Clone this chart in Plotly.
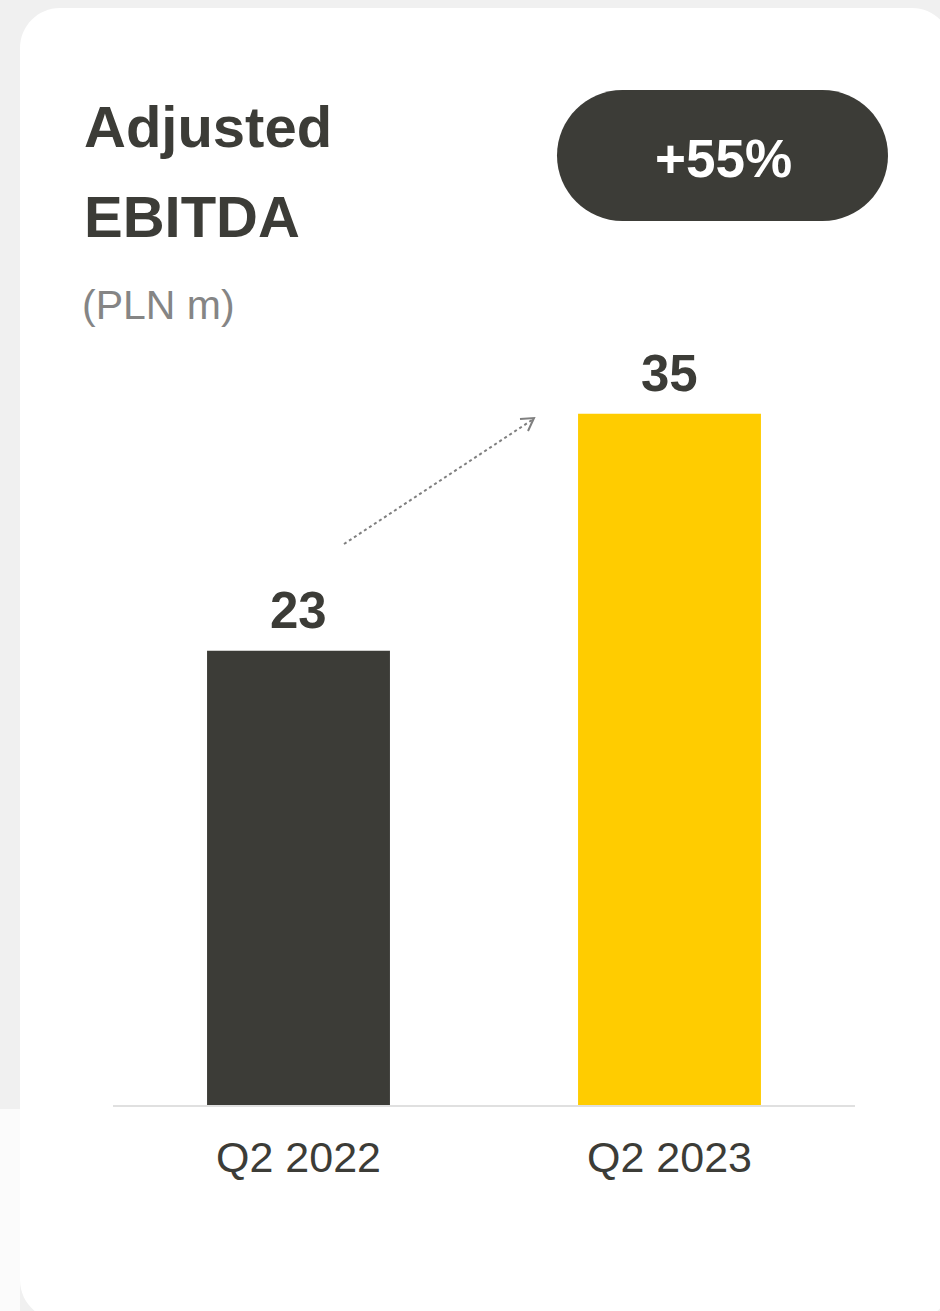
import plotly.graph_objects as go

# --- data -------------------------------------------------------------
periods = ["Q2 2022", "Q2 2023"]
ebitda = [23, 35]
bar_colors = ["#3c3c37", "#ffcc00"]
growth_label = "+55%"
title_lines = ["Adjusted", "EBITDA"]
unit_label = "(PLN m)"

# --- page geometry (pixels) --------------------------------------------
W, H = 940, 1311
DARK = "#3c3c37"
FONT = "Arial, 'Liberation Sans', sans-serif"


def px(x):
    return x / W


def py(y):
    return 1 - y / H


def rounded_rect(x0, y0, x1, y1, r):
    """SVG path (paper coordinates) for a rectangle with rounded corners."""
    k = 0.5523 * r
    pts = [
        f"M {px(x0 + r)} {py(y0)}",
        f"L {px(x1 - r)} {py(y0)}",
        f"C {px(x1 - r + k)} {py(y0)} {px(x1)} {py(y0 + r - k)} {px(x1)} {py(y0 + r)}",
        f"L {px(x1)} {py(y1 - r)}",
        f"C {px(x1)} {py(y1 - r + k)} {px(x1 - r + k)} {py(y1)} {px(x1 - r)} {py(y1)}",
        f"L {px(x0 + r)} {py(y1)}",
        f"C {px(x0 + r - k)} {py(y1)} {px(x0)} {py(y1 - r + k)} {px(x0)} {py(y1 - r)}",
        f"L {px(x0)} {py(y0 + r)}",
        f"C {px(x0)} {py(y0 + r - k)} {px(x0 + r - k)} {py(y0)} {px(x0 + r)} {py(y0)}",
        "Z",
    ]
    return " ".join(pts)


# plot area in pixels
PLOT_L, PLOT_R = 113, 855
PLOT_T, PLOT_B = 320, 1105
PX_PER_UNIT = 19.75
y_max = (PLOT_B - PLOT_T) / PX_PER_UNIT

fig = go.Figure()
fig.add_trace(
    go.Bar(
        x=periods,
        y=ebitda,
        marker=dict(color=bar_colors, line=dict(width=0)),
        width=0.493,
        hoverinfo="skip",
    )
)

shapes = [
    # lighter strip left of the card, lower part
    dict(type="rect", xref="paper", yref="paper",
         x0=0, x1=px(20), y0=0, y1=py(1109),
         fillcolor="#fbfbfb", line=dict(width=0), layer="below"),
    # white card
    dict(type="path", xref="paper", yref="paper",
         path=rounded_rect(20, 8, 952, 1320, 40),
         fillcolor="#ffffff", line=dict(width=0), layer="below"),
    # growth pill
    dict(type="path", xref="paper", yref="paper",
         path=rounded_rect(557, 90, 888, 221, 65.5),
         fillcolor=DARK, line=dict(width=0), layer="above"),
    # dotted trend arrow
    dict(type="line", xref="paper", yref="paper",
         x0=px(344), y0=py(544), x1=px(532), y1=py(420),
         line=dict(color="#7f7f7f", width=2, dash="dot"), layer="above"),
    dict(type="path", xref="paper", yref="paper",
         path=f"M {px(520)} {py(419)} L {px(534)} {py(418)} L {px(528)} {py(431)}",
         line=dict(color="#7f7f7f", width=2), layer="above"),
]

annotations = [
    dict(text=f"<b>{title_lines[0]}</b>", x=px(82), y=py(161), xanchor="left", yanchor="bottom",
         font=dict(size=58, color=DARK, family=FONT)),
    dict(text=f"<b>{title_lines[1]}</b>", x=px(82), y=py(251), xanchor="left", yanchor="bottom",
         font=dict(size=58, color=DARK, family=FONT)),
    dict(text=unit_label, x=px(80), y=py(330), xanchor="left", yanchor="bottom",
         font=dict(size=41, color="#858585", family=FONT)),
    dict(text=f"<b>{growth_label}</b>", x=px(723), y=py(190), xanchor="center", yanchor="bottom",
         font=dict(size=53, color="#ffffff", family=FONT)),
]
for p, v in zip(periods, ebitda):
    annotations.append(
        dict(text=f"<b>{v}</b>", x=p, y=v, xref="x", yref="y",
             xanchor="center", yanchor="bottom", yshift=10,
             font=dict(size=51, color=DARK, family=FONT))
    )
for a in annotations:
    a.setdefault("xref", "paper")
    a.setdefault("yref", "paper")
    a["showarrow"] = False

fig.update_layout(
    width=W,
    height=H,
    margin=dict(l=0, r=0, t=0, b=0),
    paper_bgcolor="#f0f0f0",
    plot_bgcolor="rgba(0,0,0,0)",
    showlegend=False,
    bargap=0.5,
    shapes=shapes,
    annotations=annotations,
    xaxis=dict(
        domain=[px(PLOT_L), px(PLOT_R)],
        range=[-0.5, 1.5],
        showline=True,
        linecolor="#e0e0e0",
        linewidth=2,
        showgrid=False,
        zeroline=False,
        ticks="",
        ticklabelstandoff=13,
        tickfont=dict(size=43, color=DARK, family=FONT),
        fixedrange=True,
    ),
    yaxis=dict(
        domain=[py(PLOT_B), py(PLOT_T)],
        range=[0, y_max],
        visible=False,
        fixedrange=True,
    ),
)

fig.write_html("out.html", config={"displayModeBar": False})
